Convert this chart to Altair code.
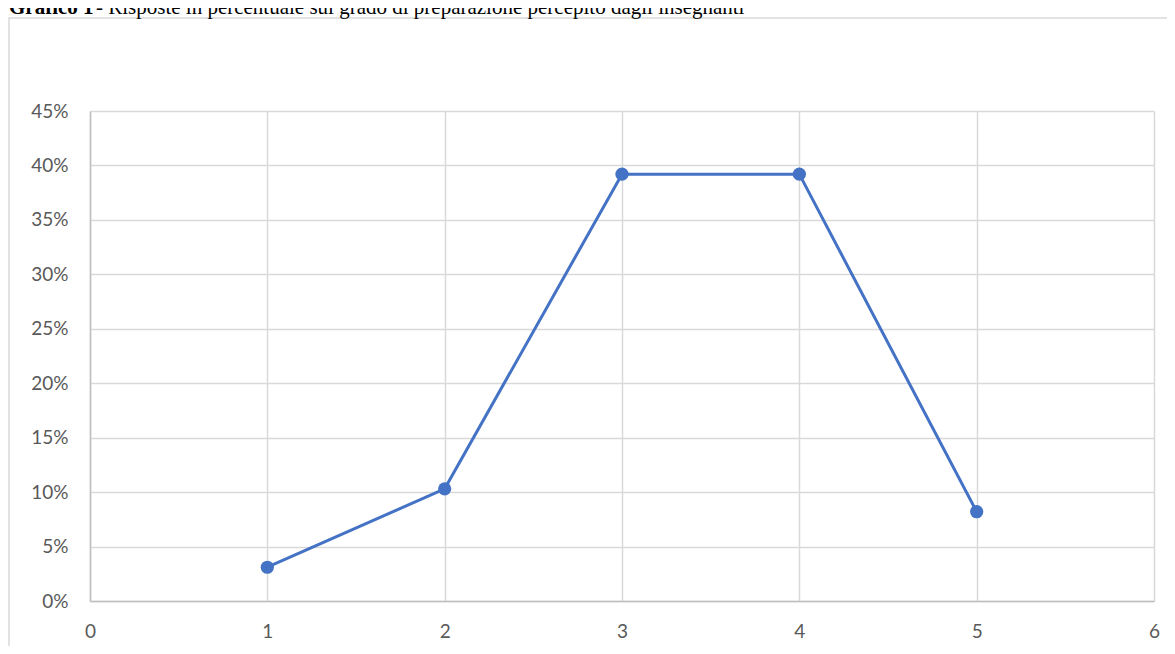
import altair as alt
import pandas as pd

categories = [1, 2, 3, 4, 5]
percentages = [0.031, 0.103, 0.392, 0.392, 0.082]
x_ticks = [0, 1, 2, 3, 4, 5, 6]
y_ticks = [0.0, 0.05, 0.10, 0.15, 0.20, 0.25, 0.30, 0.35, 0.40, 0.45]
title_bold = "Grafico 1"
title_rest = " - Risposte in percentuale sul grado di preparazione percepito dagli insegnanti"

df = pd.DataFrame({"x": categories, "y": percentages})
one = pd.DataFrame({"a": [0]})

LINE_COLOR = "#4472C4"
xscale = alt.Scale(domain=[0, 6], nice=False, zero=False)
yscale = alt.Scale(domain=[0, 0.45], nice=False)

xenc = alt.X("x:Q", scale=xscale,
             axis=alt.Axis(values=x_ticks, format="d", title=None, labelPadding=21,
                           labelFlush=False))
yenc = alt.Y("y:Q", scale=yscale,
             axis=alt.Axis(values=y_ticks, format=".0%", title=None, labelPadding=22,
                           labelFlush=False))

frame = alt.Chart(one).mark_rect(fill="white", fillOpacity=0, stroke="#d9d9d9", strokeWidth=1.5).encode(
    x=alt.value(-81), x2=alt.value(1120), y=alt.value(-93), y2=alt.value(600)
)

line = alt.Chart(df).mark_line(color=LINE_COLOR, strokeWidth=3).encode(x=xenc, y=yenc)
points = alt.Chart(df).mark_circle(color=LINE_COLOR, size=175, opacity=1).encode(x=xenc, y=yenc)

t1 = alt.Chart(one).mark_text(text=title_bold, font="Liberation Serif", fontSize=21,
                              fontWeight="bold", align="left", baseline="alphabetic",
                              color="black").encode(x=alt.value(-81), y=alt.value(-97))
t2 = alt.Chart(one).mark_text(text=title_rest, font="Liberation Serif", fontSize=21,
                              align="left", baseline="alphabetic",
                              color="black").encode(x=alt.value(6), y=alt.value(-97))

chart = alt.layer(frame, line, points, t1, t2).properties(
    width=1064, height=490,
    autosize=alt.AutoSizeParams(type="none"),
    padding={"left": 82, "top": 103, "right": 13, "bottom": 45},
).configure_view(stroke=None).configure_axis(
    grid=True, gridColor="#d9d9d9", gridWidth=1.5,
    domainColor="#bfbfbf", domainWidth=1.5, ticks=False,
    labelFont="Lato", labelFontSize=19, labelColor="#595959",
)

chart.save("out.html", embed_options={"renderer": "svg", "actions": False})
